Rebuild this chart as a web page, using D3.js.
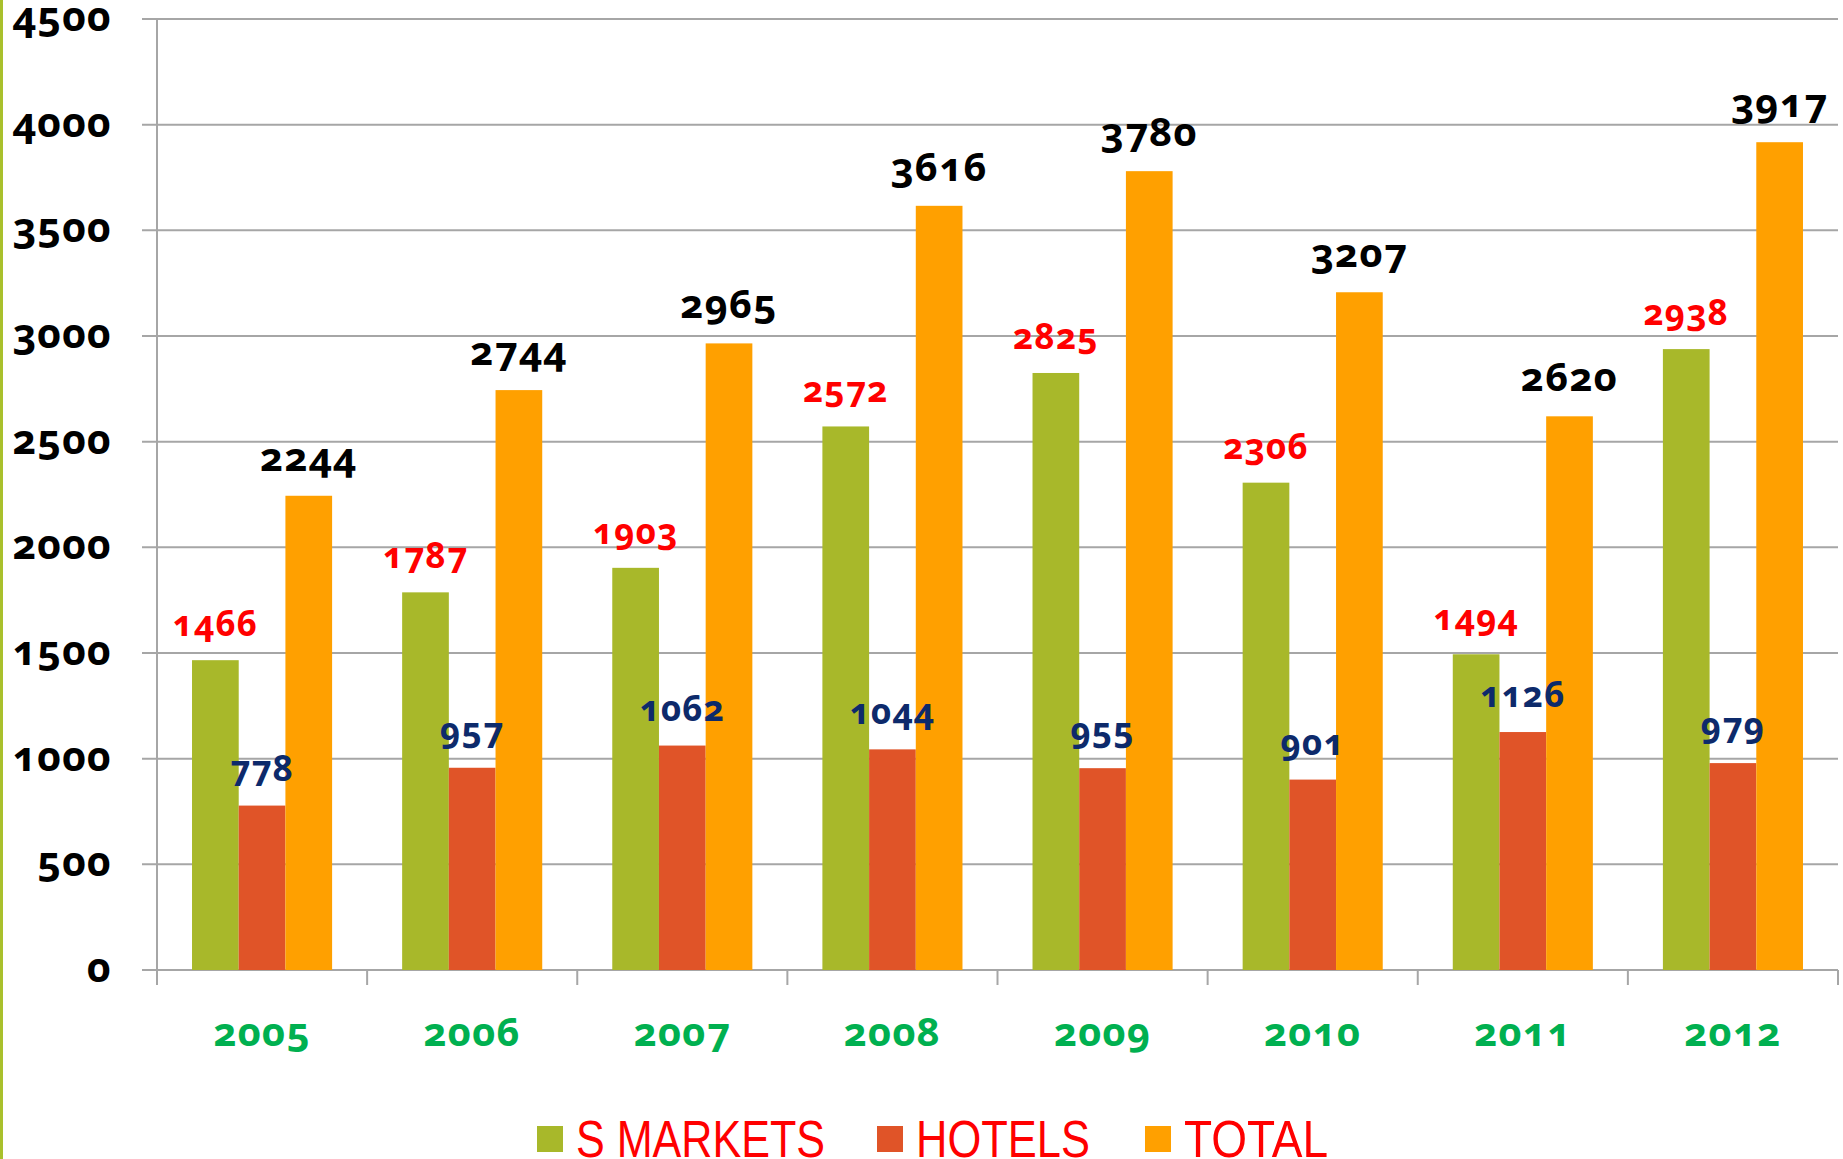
<!DOCTYPE html>
<meta charset="utf-8">
<script src="https://d3js.org/d3.v7.min.js"></script>
<style>
body { margin: 0; background: #fff; }
text { font-family: "Noto Sans", sans-serif; font-weight: bold; font-variant-numeric: oldstyle-nums; letter-spacing: 1px; }
.grid line { stroke: #a6a6a6; stroke-width: 2px; }
.legend text { font-family: "Liberation Sans", sans-serif; font-weight: normal; fill: #ff0000; letter-spacing: 0; }
</style>
<body>
<div id="chart"></div>
<script>
// chart data
var years = ["2005", "2006", "2007", "2008", "2009", "2010", "2011", "2012"];
var seriesNames = ["S MARKETS", "HOTELS", "TOTAL"];
var markets = [1466, 1787, 1903, 2572, 2825, 2306, 1494, 2938];
var hotels = [778, 957, 1062, 1044, 955, 901, 1126, 979];
var totals = [2244, 2744, 2965, 3616, 3780, 3207, 2620, 3917];
var yTicks = [0, 500, 1000, 1500, 2000, 2500, 3000, 3500, 4000, 4500];

var barColors = ["#a8b82a", "#e05428", "#ffa000"];
var labelColors = ["#ff0000", "#0d2a6b", "#000000"];
var labelSizes = [35, 35, 40];
var labelGaps = [24, 25, 25];

var width = 1843, height = 1159;
var plotLeft = 157, plotRight = 1838, plotTop = 19, plotBottom = 970;

var svg = d3.select("#chart").append("svg")
    .attr("width", width)
    .attr("height", height);

// green strip on the left edge
svg.append("rect")
    .attr("x", 0).attr("y", 0)
    .attr("width", 3).attr("height", height)
    .attr("fill", "#a9c02c");

var x = d3.scaleBand().domain(years).range([plotLeft, plotRight]).paddingInner(1 / 3).paddingOuter(1 / 6);
var xSub = d3.scaleBand().domain(seriesNames).range([0, x.bandwidth()]);
var y = d3.scaleLinear().domain([0, 4500]).range([plotBottom, plotTop]);

// gridlines + y labels
var grid = svg.append("g").attr("class", "grid");
grid.selectAll("line.h")
    .data(yTicks)
    .enter().append("line")
    .attr("class", "h")
    .attr("x1", plotLeft - 15).attr("x2", plotRight)
    .attr("y1", d => y(d)).attr("y2", d => y(d));

// y axis line and category ticks
grid.append("line")
    .attr("x1", plotLeft).attr("x2", plotLeft)
    .attr("y1", plotTop).attr("y2", plotBottom + 15);
var step = x.step();
grid.selectAll("line.v")
    .data(d3.range(1, years.length + 1))
    .enter().append("line")
    .attr("class", "v")
    .attr("x1", i => plotLeft + i * step).attr("x2", i => plotLeft + i * step)
    .attr("y1", plotBottom).attr("y2", plotBottom + 15);

svg.append("g").selectAll("text")
    .data(yTicks)
    .enter().append("text")
    .attr("x", 112)
    .attr("y", d => y(d) + 12)
    .attr("text-anchor", "end")
    .attr("font-size", 41)
    .attr("fill", "#000")
    .text(d => d);

// bars
var rows = years.map((yr, i) => ({ year: yr, vals: [markets[i], hotels[i], totals[i]] }));

var groups = svg.append("g").selectAll("g")
    .data(rows)
    .enter().append("g")
    .attr("transform", d => "translate(" + x(d.year) + ",0)");

groups.selectAll("rect")
    .data(d => d.vals.map((v, k) => ({ k: k, v: v })))
    .enter().append("rect")
    .attr("x", d => xSub(seriesNames[d.k]))
    .attr("y", d => y(d.v))
    .attr("width", xSub.bandwidth())
    .attr("height", d => plotBottom - y(d.v))
    .attr("fill", d => barColors[d.k]);

groups.selectAll("text.val")
    .data(d => d.vals.map((v, k) => ({ k: k, v: v })))
    .enter().append("text")
    .attr("class", "val")
    .attr("x", d => xSub(seriesNames[d.k]) + xSub.bandwidth() / 2)
    .attr("y", d => y(d.v) - labelGaps[d.k])
    .attr("text-anchor", "middle")
    .attr("font-size", d => labelSizes[d.k])
    .attr("fill", d => labelColors[d.k])
    .text(d => d.v);

// year labels
svg.append("g").selectAll("text")
    .data(years)
    .enter().append("text")
    .attr("x", d => x(d) + x.bandwidth() / 2)
    .attr("y", 1046)
    .attr("text-anchor", "middle")
    .attr("font-size", 40)
    .attr("fill", "#00b050")
    .text(d => d);

// legend
var legendX = [537, 877, 1145];
var legendW = [249, 174, 144];
var legend = svg.append("g").attr("class", "legend");
legend.selectAll("rect")
    .data(seriesNames)
    .enter().append("rect")
    .attr("x", (d, i) => legendX[i])
    .attr("y", 1126)
    .attr("width", 26).attr("height", 26)
    .attr("fill", (d, i) => barColors[i]);
legend.selectAll("text")
    .data(seriesNames)
    .enter().append("text")
    .attr("x", (d, i) => legendX[i] + 39)
    .attr("y", 1157)
    .attr("font-size", 52)
    .attr("textLength", (d, i) => legendW[i])
    .attr("lengthAdjust", "spacingAndGlyphs")
    .text(d => d);
</script>
</body>
</html>
